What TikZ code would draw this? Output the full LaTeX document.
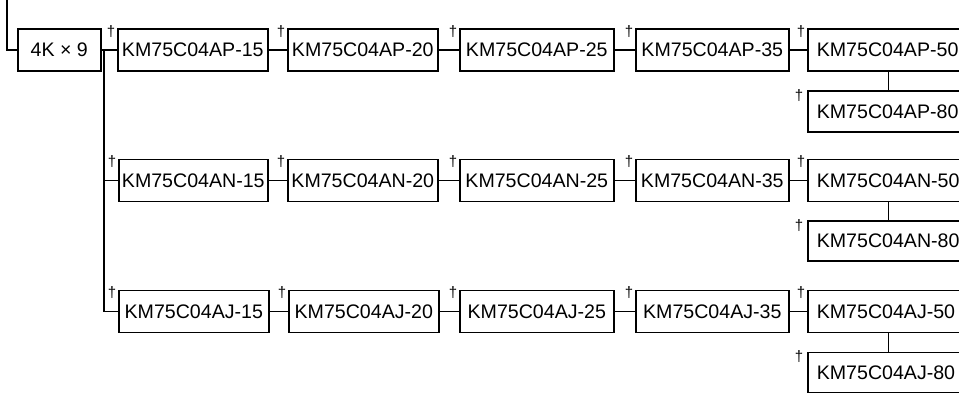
\documentclass[tikz,border=0pt]{standalone}
\usepackage{fontspec}
\setmainfont{Liberation Sans}
\begin{document}
\begin{tikzpicture}[x=1pt,y=-1pt,
  box/.style={draw, line width=1.6pt, inner sep=0pt, minimum height=42pt, anchor=west,
    font=\fontsize{19.6}{20}\selectfont},
  conn/.style={line width=1.2pt},
  dag/.style={inner sep=0pt, font=\fontsize{15}{15}\selectfont}]
\useasboundingbox (0,0) rectangle (959,393);
\clip (0,0) rectangle (959,393);
% row 1
\node[box, minimum width=83pt] (k) at (17,50) {4K × 9};
\node[box, minimum width=150pt] (ap15) at (117,50) {KM75C04AP-15};
\node[box, minimum width=150pt] (ap20) at (287,50) {KM75C04AP-20};
\node[box, minimum width=154pt] (ap25) at (459,50) {KM75C04AP-25};
\node[box, minimum width=153pt] (ap35) at (635,50) {KM75C04AP-35};
\node[box, minimum width=162pt, text width=150pt, align=left] (ap50) at (807,50) {\hspace*{3pt}KM75C04AP-50};
\node[box, minimum width=162pt, minimum height=41pt, text width=150pt, align=left] (ap80) at (807,111.5) {\hspace*{3pt}KM75C04AP-80};
% row 2
\node[box, minimum width=149pt] (an15) at (118,180.5) {KM75C04AN-15};
\node[box, minimum width=150pt] (an20) at (287,180.5) {KM75C04AN-20};
\node[box, minimum width=154pt] (an25) at (459,180.5) {KM75C04AN-25};
\node[box, minimum width=153pt] (an35) at (635,180.5) {KM75C04AN-35};
\node[box, minimum width=162pt, text width=150pt, align=left] (an50) at (807,180.5) {\hspace*{3pt}KM75C04AN-50};
\node[box, minimum width=162pt, minimum height=40pt, text width=150pt, align=left] (an80) at (807,241) {\hspace*{3pt}KM75C04AN-80};
% row 3
\node[box, minimum width=150pt] (aj15) at (118,311.5) {KM75C04AJ-15};
\node[box, minimum width=150pt] (aj20) at (288,311.5) {KM75C04AJ-20};
\node[box, minimum width=154pt] (aj25) at (459,311.5) {KM75C04AJ-25};
\node[box, minimum width=153pt] (aj35) at (635,311.5) {KM75C04AJ-35};
\node[box, minimum width=162pt, text width=150pt, align=left] (aj50) at (807,311.5) {\hspace*{3pt}KM75C04AJ-50};
\node[box, minimum width=162pt, minimum height=40pt, text width=150pt, align=left] (aj80) at (807,372.5) {\hspace*{3pt}KM75C04AJ-80};
% connectors
\coordinate (top) at (7,0);
\coordinate (t1) at (104,50);
\draw[conn] (top) |- (k.west);
\draw[conn] (k.east) -- (ap15.west);
\draw[conn] (t1) |- (an15.west);
\draw[conn] (t1) |- (aj15.west);
\foreach \r in {ap,an,aj}{
  \draw[conn] (\r15.east) -- (\r20.west);
  \draw[conn] (\r20.east) -- (\r25.west);
  \draw[conn] (\r25.east) -- (\r35.west);
  \draw[conn] (\r35.east) -- (\r50.west);
  \draw[conn] (\r50.south) -- (\r80.north);
}
% daggers
\foreach \b in {ap15,ap20,ap25,ap35,ap50,an15,an20,an25,an35,an50,aj15,aj20,aj25,aj35,aj50}{
  \node[dag] (d\b) at ([shift={(-6,3)}]\b.north west) {†};
}
\foreach \b in {ap80,an80,aj80}{
  \node[dag] (d\b) at ([shift={(-8,5)}]\b.north west) {†};
}
\end{tikzpicture}
\end{document}
